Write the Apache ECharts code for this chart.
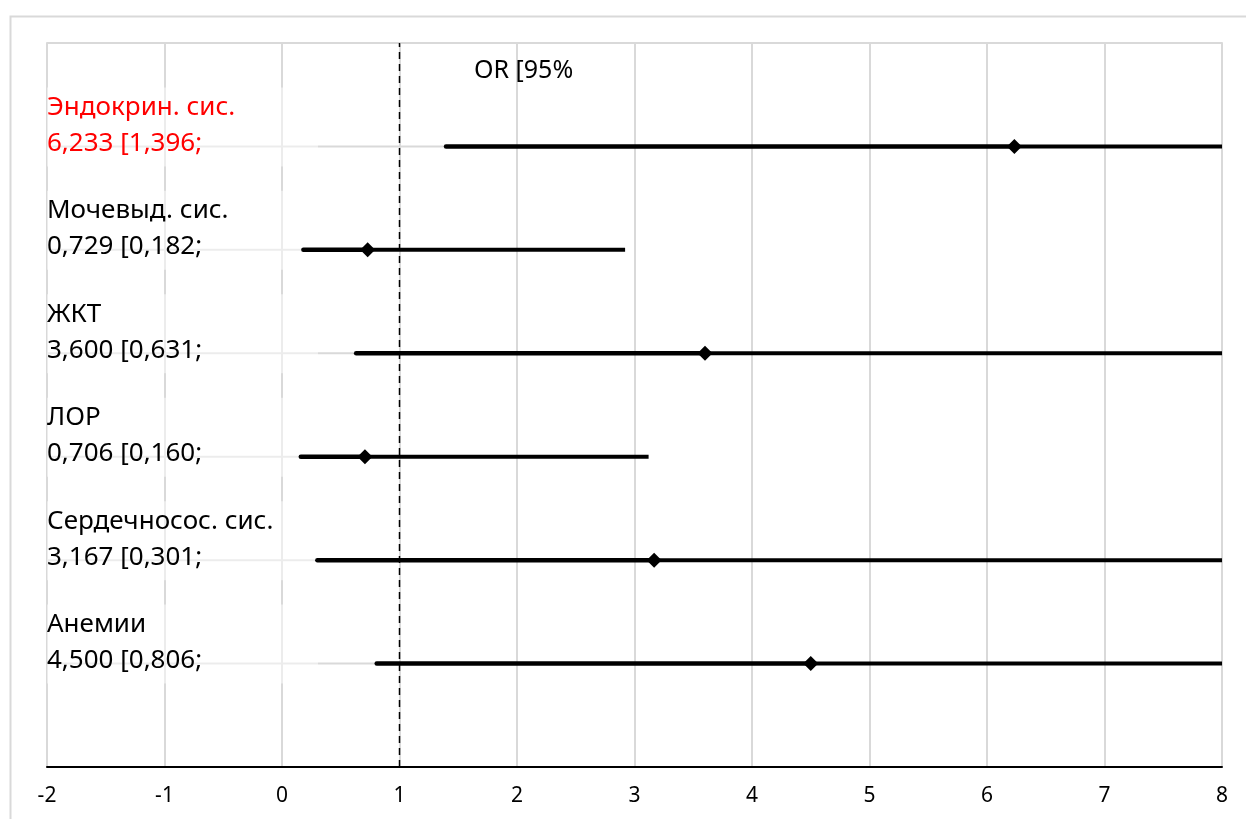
<!DOCTYPE html>
<html>
<head>
<meta charset="utf-8">
<script src="https://cdn.jsdelivr.net/npm/echarts@6/dist/echarts.min.js"></script>
<style>
html,body{margin:0;padding:0;background:#fff;}
#chart{width:1246px;height:819px;}
</style>
</head>
<body>
<div id="chart"></div>
<script>
const categories = ['Эндокрин. сис.', 'Мочевыд. сис.', 'ЖКТ', 'ЛОР', 'Сердечносос. сис.', 'Анемии'];
const valueLabels = ['6,233 [1,396;', '0,729 [0,182;', '3,600 [0,631;', '0,706 [0,160;', '3,167 [0,301;', '4,500 [0,806;'];
const orValues = [6.233, 0.729, 3.600, 0.706, 3.167, 4.500];
const lowerCI = [1.396, 0.182, 0.631, 0.160, 0.301, 0.806];
const upperCI = [27.83, 2.92, 20.54, 3.12, 33.32, 25.12];
const rowPositions = [6, 5, 4, 3, 2, 1];
const labelColors = ['#ff0000', '#000000', '#000000', '#000000', '#000000', '#000000'];
const xTicks = [-2, -1, 0, 1, 2, 3, 4, 5, 6, 7, 8];
const refLineX = 1;
const headerText = 'OR [95%';

const FONT = 'Noto Sans';
const chart = echarts.init(document.getElementById('chart'));

const seriesData = categories.map((c, i) => [rowPositions[i], lowerCI[i], orValues[i], upperCI[i], i]);

function renderItem(params, api) {
  const y = api.value(0), lo = api.value(1), or = api.value(2), up = api.value(3), idx = api.value(4);
  const cs = params.coordSys;
  const pLeft = api.coord([xTicks[0], y]);
  const pLo = api.coord([lo, y]);
  const pOr = api.coord([or, y]);
  const pUp = api.coord([up, y]);
  const maxX = cs.x + cs.width;
  const upX = Math.min(pUp[0], maxX);
  const h = 7.5;
  return {
    type: 'group',
    children: [
      { type: 'line', shape: { x1: pLeft[0], y1: pLo[1], x2: pLo[0], y2: pLo[1] },
        style: { stroke: '#d9d9d9', lineWidth: 2 } },
      { type: 'rect', shape: { x: pLeft[0], y: pLo[1] - 59, width: 271, height: 79 },
        style: { fill: 'rgba(255,255,255,0.5)' } },
      { type: 'text', x: pLeft[0], y: pLo[1] - 39,
        style: { text: categories[idx], fill: labelColors[idx], font: '26px "' + FONT + '"', verticalAlign: 'middle', align: 'left' } },
      { type: 'text', x: pLeft[0], y: pLo[1] - 3,
        style: { text: valueLabels[idx], fill: labelColors[idx], font: '26px "' + FONT + '"', verticalAlign: 'middle', align: 'left' } },
      { type: 'line', shape: { x1: pLo[0], y1: pLo[1], x2: pOr[0], y2: pOr[1] },
        style: { stroke: '#000', lineWidth: 4.5, lineCap: 'round' } },
      { type: 'line', shape: { x1: pOr[0], y1: pOr[1], x2: upX, y2: pOr[1] },
        style: { stroke: '#000', lineWidth: 4, lineCap: 'butt' } },
      { type: 'polygon', shape: { points: [[pOr[0] - h, pOr[1]], [pOr[0], pOr[1] - h], [pOr[0] + h, pOr[1]], [pOr[0], pOr[1] + h]] },
        style: { fill: '#000' } }
    ]
  };
}

chart.setOption({
  animation: false,
  backgroundColor: '#fff',
  textStyle: { fontFamily: FONT },
  title: { text: headerText, left: 469, top: 53, textStyle: { fontFamily: FONT, fontSize: 25, fontWeight: 'normal', color: '#000' } },
  graphic: [
    { type: 'rect', left: 8, top: 14, shape: { width: 1400, height: 1000 }, style: { fill: 'none', stroke: '#d9d9d9', lineWidth: 2 }, z: -1 }
  ],
  grid: { left: 47, right: 24, top: 43, bottom: 52, containLabel: false },
  xAxis: [
    { type: 'value', min: xTicks[0], max: xTicks[xTicks.length - 1], interval: 1, position: 'bottom',
      axisLine: { show: true, onZero: false, lineStyle: { color: '#000', width: 2 } },
      axisTick: { show: false },
      axisLabel: { color: '#000', fontSize: 21, margin: 19, fontFamily: FONT },
      splitLine: { show: true, lineStyle: { color: '#d9d9d9', width: 2 } } },
    { type: 'value', min: xTicks[0], max: xTicks[xTicks.length - 1], interval: 1, position: 'top',
      axisLine: { show: true, onZero: false, lineStyle: { color: '#d9d9d9', width: 2 } },
      axisTick: { show: false }, axisLabel: { show: false }, splitLine: { show: false } }
  ],
  yAxis: { type: 'value', min: 0, max: 7, show: false, splitLine: { show: false } },
  series: [
    { type: 'line', xAxisIndex: 0, data: [[refLineX, 0], [refLineX, 7]], symbol: 'none',
      lineStyle: { color: '#000', width: 1.5, type: [7, 5] }, z: 1 },
    { type: 'custom', xAxisIndex: 0, renderItem: renderItem, data: seriesData, z: 2 }
  ]
});
</script>
</body>
</html>
